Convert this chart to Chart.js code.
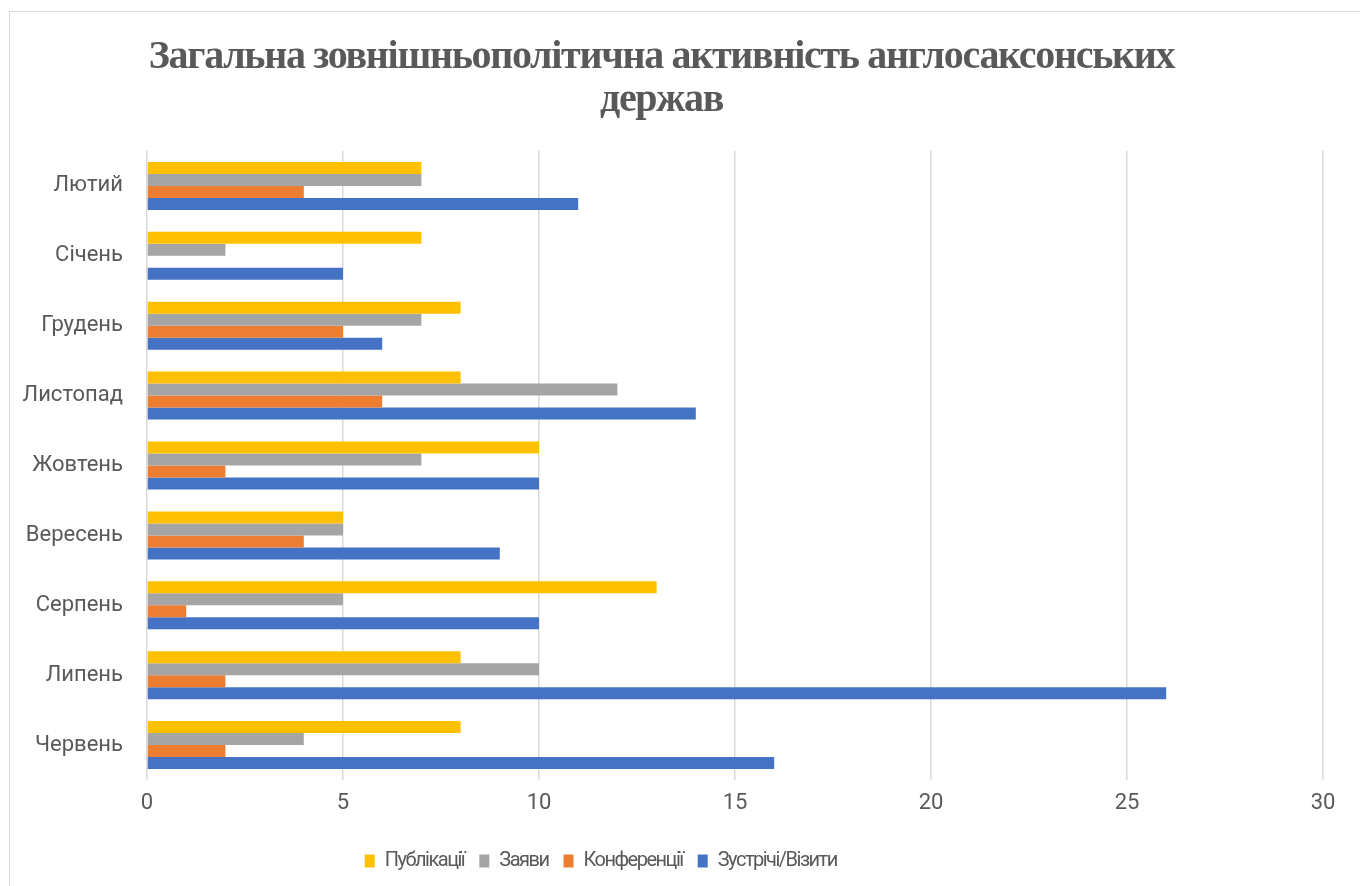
<!DOCTYPE html>
<html>
<head>
<meta charset="utf-8">
<script src="https://cdn.jsdelivr.net/npm/chart.js@4"></script>
<style>
  html, body { margin: 0; padding: 0; background: #fff; }
  #frame {
    position: absolute; left: 9px; top: 11px; width: 1400px; height: 900px;
    border: 1.5px solid #d9d9d9;
  }
  #box { position: absolute; left: 0; top: 0; width: 1360px; height: 886px; }
</style>
</head>
<body>
<div id="frame"></div>
<div id="box"><canvas id="myChart"></canvas></div>
<script>
// months, top to bottom as in the picture
const months = ["Лютий", "Січень", "Грудень", "Листопад", "Жовтень", "Вересень", "Серпень", "Липень", "Червень"];

const publications = [7, 7, 8, 8, 10, 5, 13, 8, 8];
const statements   = [7, 2, 7, 12, 7, 5, 5, 10, 4];
const conferences  = [4, 0, 5, 6, 2, 4, 1, 2, 2];
const meetings     = [11, 5, 6, 14, 10, 9, 10, 26, 16];

const xTicks = [0, 5, 10, 15, 20, 25, 30];

const textColor = "#595959";

// narrower text for title and legend (the original used condensed fonts),
// and the legend sits a bit left of centre because the chart was cropped
function squeeze(box, spacing) {
  if (!box || box._squeezed) return;
  const orig = box.draw;
  box.draw = function () {
    this.ctx.save();
    this.ctx.letterSpacing = spacing;
    orig.apply(this, arguments);
    this.ctx.restore();
  };
  box._squeezed = true;
}

const tweaks = {
  id: "tweaks",
  afterLayout(chart) {
    squeeze(chart.titleBlock, "-1.3px");
    squeeze(chart.legend, "-1.5px");
    chart.legend.left -= 30;
    chart.legend.right -= 30;
  },
};

const ctx = document.getElementById("myChart").getContext("2d");
const myChart = new Chart(ctx, {
  type: "bar",
  data: {
    labels: months,
    datasets: [
      { label: "Публікації", data: publications, backgroundColor: "#FFC000" },
      { label: "Заяви", data: statements, backgroundColor: "#A5A5A5" },
      { label: "Конференції", data: conferences, backgroundColor: "#ED7D31" },
      { label: "Зустрічі/Візити", data: meetings, backgroundColor: "#4472C4" },
    ],
  },
  plugins: [tweaks],
  options: {
    indexAxis: "y",
    responsive: true,
    maintainAspectRatio: false,
    animation: false,
    categoryPercentage: 0.687,
    barPercentage: 1.0,
    layout: { padding: { left: 0, right: 37, top: 0, bottom: 5 } },
    plugins: {
      title: {
        display: true,
        text: ["Загальна зовнішньополітична активність англосаксонських", "держав"],
        color: textColor,
        font: { family: "'Liberation Serif', serif", size: 40, weight: "bold", lineHeight: 1.08 },
        padding: { top: 36, bottom: 28.6 },
      },
      legend: {
        position: "bottom",
        labels: {
          color: textColor,
          font: { family: "Roboto", size: 20 },
          boxWidth: 10,
          boxHeight: 13,
          padding: 15,
        },
      },
      tooltip: { enabled: false },
    },
    scales: {
      x: {
        min: 0,
        max: 30,
        afterBuildTicks: (scale) => { scale.ticks = xTicks.map(v => ({ value: v })); },
        afterFit: (scale) => { scale.height = 56; },
        grid: { color: "#d9d9d9", lineWidth: 1.5, drawTicks: false },
        border: { display: false },
        ticks: { color: textColor, font: { family: "Roboto", size: 22 }, padding: 10 },
      },
      y: {
        afterFit: (scale) => { scale.width = 147; },
        grid: { display: false, drawTicks: false },
        border: { display: false },
        ticks: { color: textColor, font: { family: "Roboto", size: 22 }, padding: 24 },
      },
    },
  },
});
</script>
</body>
</html>
